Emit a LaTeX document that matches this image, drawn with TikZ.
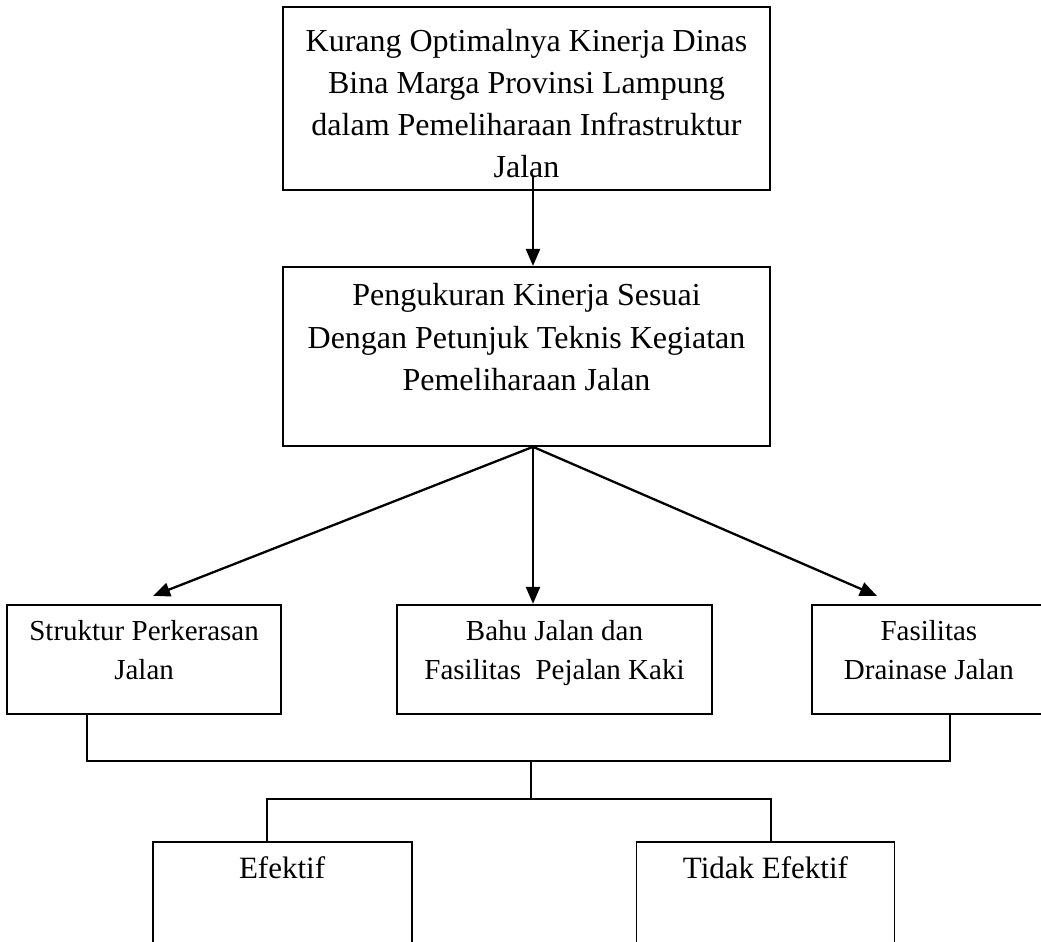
\documentclass[tikz,border=0pt]{standalone}
\usepackage{fontspec}
\setmainfont{Liberation Serif}
\usetikzlibrary{arrows.meta,positioning}
\tikzstyle{block} = [rectangle, draw, line width=0.95pt, inner sep=0pt]
\tikzstyle{txt} = [inner sep=0pt, align=center]
\tikzstyle{line} = [draw, line width=1.15pt, -{Triangle[length=8.5pt,width=7pt]}]
\tikzstyle{link} = [draw, line width=0.7pt]

\begin{document}
\begin{tikzpicture}[x=0.5pt,y=-0.5pt]
    \useasboundingbox (0,0) rectangle (1041,942);
    \clip (0,0) rectangle (1041,942);
    \node [block, minimum width=243.5pt, minimum height=91.5pt] (kinerja) at (526.5,98.5) {};
    \node [txt, below=11.5pt of kinerja.north, font=\fontsize{16}{21}\selectfont] (kinerjatxt) {Kurang Optimalnya Kinerja Dinas\\Bina Marga Provinsi Lampung\\dalam Pemeliharaan Infrastruktur\\Jalan};
    \node [block, minimum width=243.5pt, minimum height=89.5pt, below=37.5pt of kinerja] (ukur) {};
    \node [txt, below=8.5pt of ukur.north, font=\fontsize{16}{21.25}\selectfont] (ukurtxt) {Pengukuran Kinerja Sesuai\\Dengan Petunjuk Teknis Kegiatan\\Pemeliharaan Jalan};
    \node [block, minimum width=157.5pt, minimum height=54.5pt, below=78.5pt of ukur, xshift=14pt] (bahu) {};
    \node [block, minimum width=137pt, minimum height=54.5pt, left=57pt of bahu] (struktur) {};
    \node [block, minimum width=117pt, minimum height=54.5pt, right=49pt of bahu] (drainase) {};
    \node [txt, below=8pt of struktur.north, font=\fontsize{14.5}{19.5}\selectfont] (strukturtxt) {Struktur Perkerasan\\Jalan};
    \node [txt, below=8pt of bahu.north, font=\fontsize{14.5}{19.5}\selectfont] (bahutxt) {Bahu Jalan dan\\Fasilitas\ \ Pejalan Kaki};
    \node [txt, below=8pt of drainase.north, font=\fontsize{14.5}{19.5}\selectfont] (drainasetxt) {Fasilitas\\Drainase Jalan};
    \node [block, minimum width=129.5pt, minimum height=65pt, below=63pt of struktur.south east] (efektif) {};
    \node [block, minimum width=129pt, minimum height=65pt, right=111.5pt of efektif] (tidak) {};
    \node [txt, below=8pt of efektif.north, font=\fontsize{15.5}{19}\selectfont] (efektiftxt) {Efektif};
    \node [txt, below=8pt of tidak.north, font=\fontsize{15.5}{19}\selectfont] (tidaktxt) {Tidak Efektif};
    % arrows
    \coordinate (kinerjaout) at (533,176);
    \coordinate (ukurout) at (ukur.south -| kinerjaout);
    \path [line] (kinerjaout) -- (kinerjaout |- ukur.north);
    \path [line] (ukurout) -- ([shift={(9,-8)}]struktur.north);
    \path [line] (ukurout) -- (ukurout |- bahu.north);
    \path [line] (ukurout) -- ([shift={(-52,-8)}]drainase.north);
    % tree lines
    \coordinate (busatas) at (531,761);
    \coordinate (busbawah) at (531,799);
    \path [link] ([xshift=-28.5pt]struktur.south) |- (busatas) -| ([xshift=10.5pt]drainase.south);
    \path [link] (busatas) -- (busbawah);
    \path [link] ([xshift=-7.5pt]efektif.north) |- (busbawah) -| ([xshift=2.75pt]tidak.north);
\end{tikzpicture}
\end{document}
